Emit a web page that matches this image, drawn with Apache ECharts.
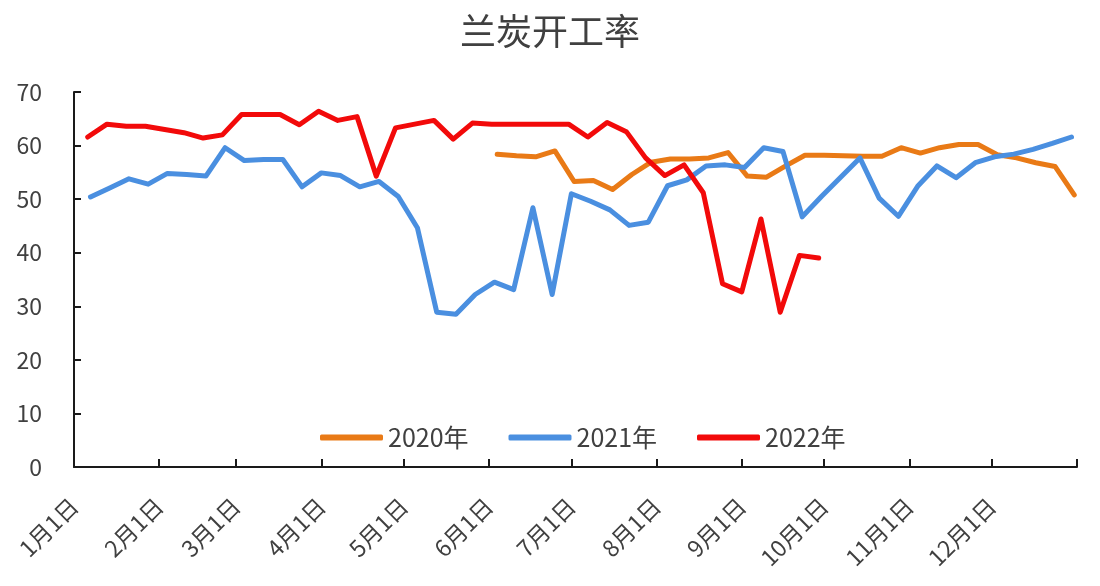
<!DOCTYPE html>
<html>
<head>
<meta charset="utf-8">
<script src="https://cdn.jsdelivr.net/npm/echarts@6/dist/echarts.min.js"></script>
<style>html,body{margin:0;padding:0;background:#fff;}#c{width:1100px;height:586px;}</style>
</head>
<body>
<div id="c"></div>
<script>
// X axis: day of year (0 = 1月1日)
const monthStarts = [0, 31, 59, 90, 120, 151, 181, 212, 243, 273, 304, 334];
const tickLabels = ['1月1日','2月1日','3月1日','4月1日','5月1日','6月1日','7月1日','8月1日','9月1日','10月1日','11月1日','12月1日'];
const tickDays = [0, 31, 59, 90, 120, 151, 181, 212, 243, 273, 304, 334, 365];

const seriesNames = ['2020年', '2021年', '2022年'];

const days2020 = [154,161,168,175,182,189,196,203,210,217,224,231,238,245,252,259,266,273,280,287,294,301,308,315,322,329,336,343,350,357,364];
const vals2020 = [58.4,58.1,57.9,59.0,53.3,53.5,51.8,54.6,56.9,57.5,57.5,57.7,58.7,54.3,54.1,56.2,58.2,58.2,58.1,58.0,58.0,59.6,58.6,59.6,60.2,60.2,58.3,57.7,56.8,56.1,50.8];

const days2021 = [6,13,20,27,34,41,48,55,62,69,76,83,90,97,104,111,118,125,132,139,146,153,160,167,174,181,188,195,202,209,216,223,230,237,244,251,258,265,272,279,286,293,300,307,314,321,328,335,342,349,356,363];
const vals2021 = [50.4,52.1,53.8,52.8,54.8,54.6,54.3,59.6,57.2,57.4,57.4,52.3,54.9,54.4,52.3,53.3,50.5,44.6,28.9,28.5,32.2,34.5,33.1,48.4,32.2,51.0,49.6,48.0,45.1,45.7,52.5,53.6,56.2,56.4,55.9,59.6,58.9,46.7,50.5,54.1,57.7,50.2,46.8,52.4,56.2,54.0,56.8,57.9,58.4,59.3,60.4,61.6];

const days2022 = [5,12,19,26,33,40,47,54,61,68,75,82,89,96,103,110,117,124,131,138,145,152,159,166,173,180,187,194,201,208,215,222,229,236,243,250,257,264,271];
const vals2022 = [61.6,64.0,63.6,63.6,63.0,62.4,61.4,62.0,65.8,65.8,65.8,63.9,66.4,64.7,65.4,54.3,63.3,64.0,64.7,61.2,64.2,64.0,64.0,64.0,64.0,64.0,61.6,64.3,62.6,57.7,54.4,56.4,51.2,34.2,32.7,46.3,28.9,39.5,39.0];

const colors = ['#E97A16', '#4A8FE0', '#F20A0A'];

function pairs(d, v) { return d.map((x, i) => [x, v[i]]); }

const FONT = '"Noto Sans CJK SC", "Noto Sans", sans-serif';
const TXT = '#404040';
const AX = '#1a1a1a';

const chart = echarts.init(document.getElementById('c'), null, {renderer: 'canvas'});
chart.setOption({
  animation: false,
  backgroundColor: '#fff',
  title: {
    text: '兰炭开工率',
    left: 'center',
    top: 8,
    textStyle: {fontSize: 36, fontWeight: 'normal', color: TXT, fontFamily: FONT}
  },
  legend: {
    data: seriesNames,
    left: 315,
    top: 420,
    itemWidth: 63,
    itemHeight: 6,
    itemGap: 40,
    icon: 'roundRect',
    textStyle: {fontSize: 25, color: TXT, fontFamily: FONT}
  },
  grid: {left: 74, right: 23, top: 92, bottom: 119},
  xAxis: {
    type: 'value',
    min: 0,
    max: 365,
    splitLine: {show: false},
    axisLine: {show: true, lineStyle: {color: AX, width: 2}},
    axisTick: {show: true, inside: true, length: 8, customValues: tickDays, lineStyle: {color: AX, width: 2}},
    axisLabel: {
      customValues: monthStarts,
      rotate: 45,
      margin: 35,
      fontSize: 23,
      color: TXT,
      fontFamily: FONT,
      formatter: function (v) { const i = monthStarts.indexOf(v); return i >= 0 ? tickLabels[i] : ''; }
    }
  },
  yAxis: {
    type: 'value',
    min: 0,
    max: 70,
    interval: 10,
    splitLine: {show: false},
    axisLine: {show: true, lineStyle: {color: AX, width: 2}},
    axisTick: {show: true, inside: true, length: 7, lineStyle: {color: AX, width: 2}},
    axisLabel: {margin: 32, fontSize: 23, color: TXT, fontFamily: FONT}
  },
  series: [
    {name: seriesNames[0], type: 'line', data: pairs(days2020, vals2020), showSymbol: false, symbol: 'none',
     lineStyle: {width: 5, color: colors[0], join: 'round', cap: 'round'}, itemStyle: {color: colors[0]}, z: 2},
    {name: seriesNames[1], type: 'line', data: pairs(days2021, vals2021), showSymbol: false, symbol: 'none',
     lineStyle: {width: 5, color: colors[1], join: 'round', cap: 'round'}, itemStyle: {color: colors[1]}, z: 3},
    {name: seriesNames[2], type: 'line', data: pairs(days2022, vals2022), showSymbol: false, symbol: 'none',
     lineStyle: {width: 5, color: colors[2], join: 'round', cap: 'round'}, itemStyle: {color: colors[2]}, z: 4}
  ]
});
</script>
</body>
</html>
